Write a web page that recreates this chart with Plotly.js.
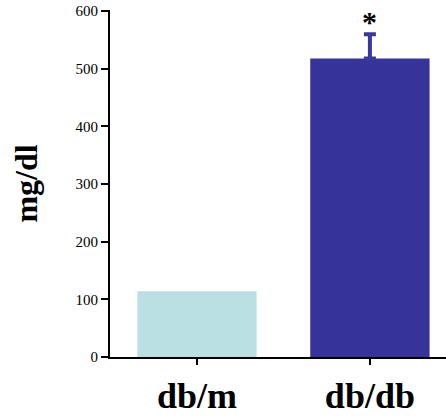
<!DOCTYPE html>
<html>
<head>
<meta charset="utf-8">
<script src="https://cdn.plot.ly/plotly-3.0.1.min.js"></script>
<style>html,body{margin:0;padding:0;background:#fff;}#chart{width:446px;height:416px;}</style>
</head>
<body>
<div id="chart"></div>
<script>
const categories = ["db/m", "db/db"];
const values = [114, 518];
const errorsPlus = [0, 42];
const barColors = ["#bbe0e3", "#36339a"];
const yTicks = [0, 100, 200, 300, 400, 500, 600];

const traces = categories.map((c, i) => {
  const t = {
    type: "bar",
    x: [c],
    y: [values[i]],
    width: 0.69,
    marker: {color: barColors[i], line: {width: 0}},
    hoverinfo: "none"
  };
  if (errorsPlus[i] > 0) {
    t.error_y = {
      type: "data", symmetric: false, array: [errorsPlus[i]], arrayminus: [0],
      color: "#3a37a0", thickness: 4, width: 6, visible: true
    };
  }
  return t;
});

const layout = {
  width: 446, height: 416,
  margin: {l: 110, r: 0, t: 10, b: 59, pad: 0},
  paper_bgcolor: "#fff", plot_bgcolor: "#fff",
  showlegend: false,
  barmode: "overlay",
  xaxis: {
    type: "category",
    categoryorder: "array", categoryarray: categories,
    range: [-0.503, 1.44],
    showline: true, linecolor: "#000", linewidth: 2,
    ticks: "outside", ticklen: 6, tickwidth: 2, tickcolor: "#000",
    tickfont: {family: "Liberation Serif, Times New Roman, serif", size: 36, color: "#000", weight: "bold"},
    showgrid: false, zeroline: false, fixedrange: true
  },
  yaxis: {
    range: [0, 602],
    tickvals: yTicks,
    ticktext: yTicks.map(String),
    showline: true, linecolor: "#000", linewidth: 2,
    ticks: "outside", ticklen: 7, tickwidth: 2, tickcolor: "#000",
    tickfont: {family: "Liberation Serif, Times New Roman, serif", size: 15, color: "#000"},
    showgrid: false, zeroline: false, fixedrange: true,
    title: {text: "<b>mg/dl</b>", standoff: 28, font: {family: "Liberation Serif, Times New Roman, serif", size: 32, color: "#000"}}
  },
  annotations: [{
    x: 1, y: values[1] + errorsPlus[1], xref: "x", yref: "y",
    text: "<b>*</b>", showarrow: false, yanchor: "bottom", yshift: -6,
    font: {family: "Liberation Serif, Times New Roman, serif", size: 30, color: "#000"}
  }]
};

Plotly.newPlot("chart", traces, layout, {staticPlot: true, displayModeBar: false});
</script>
</body>
</html>
